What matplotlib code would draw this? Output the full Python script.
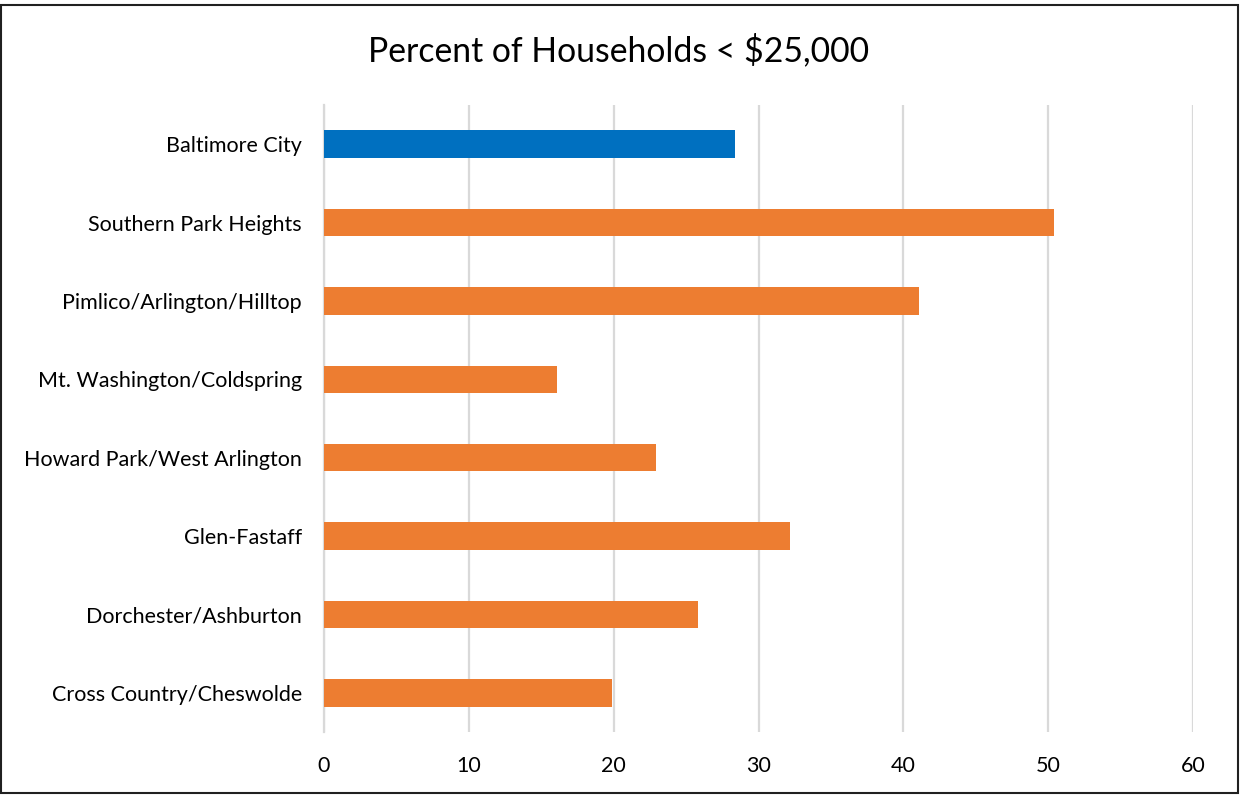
import matplotlib
matplotlib.use('Agg')
import matplotlib.pyplot as plt
from matplotlib.patches import Rectangle

# data (top to bottom)
areas = ['Baltimore City', 'Southern Park Heights', 'Pimlico/Arlington/Hilltop',
         'Mt. Washington/Coldspring', 'Howard Park/West Arlington', 'Glen-Fastaff',
         'Dorchester/Ashburton', 'Cross Country/Cheswolde']
pct = [28.4, 50.4, 41.1, 16.1, 22.9, 32.2, 25.8, 19.9]
bar_colors = ['#0070C0'] + ['#ED7D31'] * 7
xticks = [0, 10, 20, 30, 40, 50, 60]

plt.rcParams['font.family'] = ['Lato', 'DejaVu Sans']

fig = plt.figure(figsize=(12.41, 7.96), dpi=100)
ax = fig.add_axes([324 / 1241, 1 - 732 / 796, (1193 - 324) / 1241, (732 - 105) / 796])

ypos = list(range(len(areas)))
ax.barh(ypos, pct, height=0.35, color=bar_colors, zorder=3)
ax.set_ylim(len(areas) - 0.5, -0.5)
ax.set_xlim(0, 60)
ax.set_yticks(ypos)
ax.set_yticklabels(areas, fontsize=15.5)
ax.set_xticks(xticks)
ax.set_xticklabels([str(t) for t in xticks], fontsize=15.5)
ax.tick_params(axis='both', length=0)
ax.tick_params(axis='y', pad=16)
ax.tick_params(axis='x', pad=17)
ax.grid(axis='x', color='#D9D9D9', linewidth=1.6, zorder=0)
for s in ['top', 'right', 'bottom']:
    ax.spines[s].set_visible(False)
ax.spines['left'].set_color('#D9D9D9')
ax.spines['left'].set_linewidth(1.6)

fig.text(619 / 1241, 1 - 50 / 796, 'Percent of Households < $25,000', ha='center', va='center', fontsize=24.3)

# outer chart border
fig.patches.append(Rectangle((1 / 1241, 3 / 796), 1237 / 1241, 788 / 796, transform=fig.transFigure,
                             fill=False, edgecolor='#202020', linewidth=1.5))

fig.savefig('out.png', dpi=100)
